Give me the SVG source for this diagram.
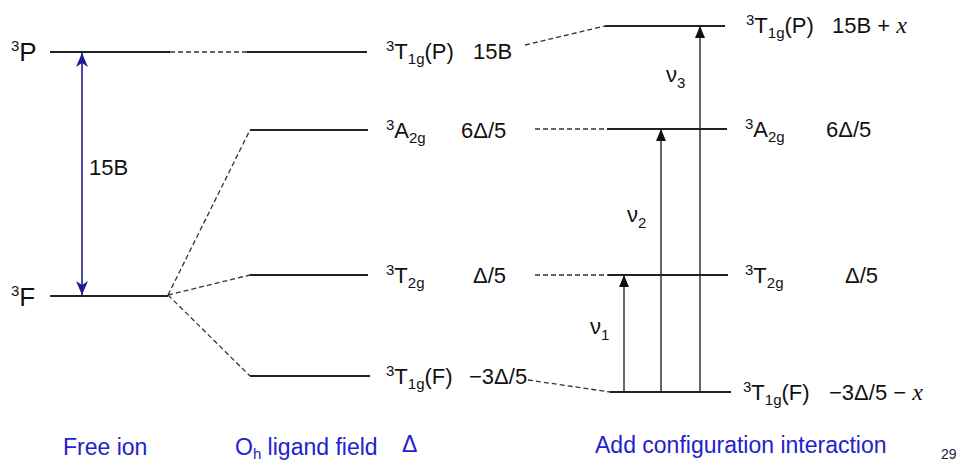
<svg xmlns="http://www.w3.org/2000/svg" width="963" height="462" viewBox="0 0 963 462">
<defs>
<style>
text{font-family:"Liberation Sans",Arial,sans-serif;fill:#111}
.lab{font-size:22px}
.big{font-size:26px}
.sup{font-size:15px}
.blue{fill:#2222cc;font-size:23px}
.lvl{stroke:#222;stroke-width:2;fill:none}
.dash{stroke:#333;stroke-width:1.3;stroke-dasharray:5 3;fill:none}
.arr{stroke:#333;stroke-width:1.5;fill:none;marker-end:url(#ah)}
.barr{stroke:#1c1c8c;stroke-width:1.6;fill:none;marker-start:url(#bh);marker-end:url(#bh)}
.it{font-family:"Liberation Serif","Times New Roman",serif;font-style:italic}
</style>
<marker id="ah" viewBox="0 0 12 10" refX="12" refY="5" markerWidth="12" markerHeight="10" markerUnits="userSpaceOnUse" orient="auto">
<path d="M0,0 L12,5 L0,10 z" fill="#111"/>
</marker>
<marker id="bh" viewBox="0 0 14 12" refX="14" refY="6" markerWidth="14" markerHeight="12" markerUnits="userSpaceOnUse" orient="auto-start-reverse">
<path d="M0,0 L14,6 L0,12 L4,6 z" fill="#1c1c8c"/>
</marker>
</defs>

<g id="connectors">
<line class="dash" x1="170" y1="52" x2="247" y2="52"/>
<line class="dash" x1="168" y1="295" x2="250" y2="130"/>
<line class="dash" x1="168" y1="295" x2="250" y2="275"/>
<line class="dash" x1="168" y1="295" x2="250" y2="376"/>
<line class="dash" x1="525" y1="45" x2="605" y2="26"/>
<line class="dash" x1="535" y1="129" x2="607" y2="129"/>
<line class="dash" x1="535" y1="275" x2="608" y2="275"/>
<line class="dash" x1="528" y1="380" x2="610" y2="392"/>
<line class="barr" x1="82" y1="295" x2="82" y2="53"/>
<line class="arr" x1="624" y1="392" x2="624" y2="275"/>
<line class="arr" x1="661" y1="392" x2="661" y2="129"/>
<line class="arr" x1="700" y1="392" x2="700" y2="26"/>
</g>

<g id="free-3P">
<line class="lvl" x1="50" y1="52" x2="170" y2="52"/>
<text class="big" x="11" y="61"><tspan class="sup" dy="-10">3</tspan><tspan dy="10">P</tspan></text>
</g>
<g id="free-3F">
<line class="lvl" x1="50" y1="296" x2="168" y2="296"/>
<text class="big" x="11" y="306"><tspan class="sup" dy="-10">3</tspan><tspan dy="10">F</tspan></text>
</g>
<g id="label-15B">
<text class="lab" x="89" y="175">15B</text>
</g>

<g id="oh-T1gP">
<line class="lvl" x1="247" y1="52" x2="367" y2="52"/>
<text class="lab" x="386" y="59"><tspan class="sup" dy="-8">3</tspan><tspan dy="8">T</tspan><tspan class="sup" dy="5">1g</tspan><tspan dy="-5">(P)</tspan></text>
<text class="lab" x="473" y="59">15B</text>
</g>
<g id="oh-A2g">
<line class="lvl" x1="250" y1="130" x2="368" y2="130"/>
<text class="lab" x="386" y="138"><tspan class="sup" dy="-8">3</tspan><tspan dy="8">A</tspan><tspan class="sup" dy="5">2g</tspan></text>
<text class="lab" x="461" y="138">6Δ/5</text>
</g>
<g id="oh-T2g">
<line class="lvl" x1="250" y1="275" x2="368" y2="275"/>
<text class="lab" x="386" y="283"><tspan class="sup" dy="-8">3</tspan><tspan dy="8">T</tspan><tspan class="sup" dy="5">2g</tspan></text>
<text class="lab" x="473" y="283">Δ/5</text>
</g>
<g id="oh-T1gF">
<line class="lvl" x1="250" y1="376" x2="370" y2="376"/>
<text class="lab" x="386" y="384"><tspan class="sup" dy="-8">3</tspan><tspan dy="8">T</tspan><tspan class="sup" dy="5">1g</tspan><tspan dy="-5">(F)</tspan></text>
<text class="lab" x="469" y="384">−3Δ/5</text>
</g>

<g id="ci-T1gP">
<line class="lvl" x1="605" y1="26" x2="725" y2="26"/>
<text class="lab" x="746" y="33"><tspan class="sup" dy="-8">3</tspan><tspan dy="8">T</tspan><tspan class="sup" dy="5">1g</tspan><tspan dy="-5">(P)</tspan></text>
<text class="lab" x="832" y="33">15B + <tspan class="it" font-size="24">x</tspan></text>
</g>
<g id="ci-A2g">
<line class="lvl" x1="607" y1="129" x2="727" y2="129"/>
<text class="lab" x="745" y="137"><tspan class="sup" dy="-8">3</tspan><tspan dy="8">A</tspan><tspan class="sup" dy="5">2g</tspan></text>
<text class="lab" x="826" y="137">6Δ/5</text>
</g>
<g id="ci-T2g">
<line class="lvl" x1="608" y1="275" x2="728" y2="275"/>
<text class="lab" x="745" y="283"><tspan class="sup" dy="-8">3</tspan><tspan dy="8">T</tspan><tspan class="sup" dy="5">2g</tspan></text>
<text class="lab" x="845" y="283">Δ/5</text>
</g>
<g id="ci-T1gF">
<line class="lvl" x1="610" y1="392" x2="731" y2="392"/>
<text class="lab" x="743" y="400"><tspan class="sup" dy="-8">3</tspan><tspan dy="8">T</tspan><tspan class="sup" dy="5">1g</tspan><tspan dy="-5">(F)</tspan></text>
<text class="lab" x="829" y="400">−3Δ/5 − <tspan class="it" font-size="24">x</tspan></text>
</g>

<g id="nu-labels">
<text class="lab" x="666" y="82">ν<tspan class="sup" dy="6">3</tspan></text>
<text class="lab" x="627" y="222">ν<tspan class="sup" dy="6">2</tspan></text>
<text class="lab" x="590" y="334">ν<tspan class="sup" dy="6">1</tspan></text>
</g>

<g id="captions">
<text class="blue" x="63" y="455">Free ion</text>
<text class="blue" x="235" y="455">O<tspan font-size="15" dy="4">h</tspan><tspan dy="-4"> ligand field</tspan></text>
<text class="blue" x="402" y="452" font-size="26">Δ</text>
<text class="blue" x="595" y="453">Add configuration interaction</text>
<text x="941" y="459" font-size="14" style="fill:#222244">29</text>
</g>
</svg>
